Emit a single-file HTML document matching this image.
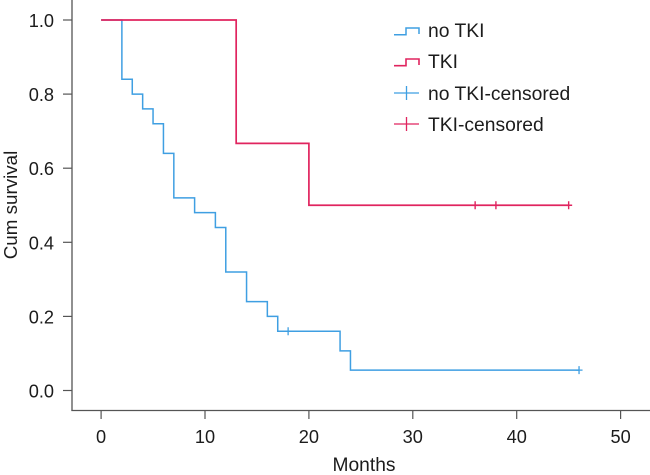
<!DOCTYPE html>
<html lang="en">
<head>
<meta charset="utf-8">
<title>Kaplan-Meier survival chart</title>
<style>
html,body{margin:0;padding:0;background:#fff;width:650px;height:475px;overflow:hidden}
svg{display:block}
text{font-family:"Liberation Sans",Arial,sans-serif;fill:#1c1c1c}
</style>
</head>
<body>
<svg id="chart" width="650" height="475" viewBox="0 0 650 475" xmlns="http://www.w3.org/2000/svg">
  <g id="axes"></g>
  <g id="marks" fill="none"></g>
  <text x="0" y="0" transform="translate(17,205) rotate(-90)" text-anchor="middle" font-size="18.8">Cum survival</text>
  <text x="364" y="471" text-anchor="middle" font-size="19.2">Months</text>
  <g fill="none">
    <path d="M394 34.7H406V28H419V34" stroke="#3f9fe2" stroke-width="1.5"/>
    <text x="428" y="37" font-size="19.3">no TKI</text>
    <path d="M394 65.7H406V59H419V65" stroke="#e0245f" stroke-width="1.6"/>
    <text x="428" y="68" font-size="19.3">TKI</text>
    <path d="M394 93H419M406.5 86V100" stroke="#3f9fe2" stroke-width="1.3"/>
    <text x="428" y="100" font-size="19.3">no TKI-censored</text>
    <path d="M394 124H419M406.5 117V131" stroke="#e0245f" stroke-width="1.3"/>
    <text x="428" y="131" font-size="19.3">TKI-censored</text>
  </g>
</svg>
<script>
const xTicks = [0, 10, 20, 30, 40, 50];
const yTicks = ["0.0", "0.2", "0.4", "0.6", "0.8", "1.0"];
const noTkiTimes = [0, 2, 3, 4, 5, 6, 7, 9, 11, 12, 14, 16, 17, 23, 24, 46];
const noTkiSurvival = [1, 0.84, 0.8, 0.76, 0.72, 0.64, 0.52, 0.48, 0.44, 0.32, 0.24, 0.2, 0.16, 0.107, 0.055, 0.055];
const tkiTimes = [0, 13, 20, 45];
const tkiSurvival = [1, 0.667, 0.5, 0.5];
const noTkiCensoredTimes = [18, 46];
const noTkiCensoredSurvival = [0.16, 0.055];
const tkiCensoredTimes = [36, 38, 45];
const tkiCensoredSurvival = [0.5, 0.5, 0.5];

const NS = 'http://www.w3.org/2000/svg';
const xScale = function (t) { return 101.1 + t * 10.39; };
const yScale = function (s) { return 390.5 - s * 370.5; };
const BLUE = '#3f9fe2';
const RED = '#e0245f';
const AXIS = '#555';

const axes = document.getElementById('axes');
const marks = document.getElementById('marks');

function make(tag, parent) {
  const el = document.createElementNS(NS, tag);
  parent.appendChild(el);
  return el;
}

const ySpine = make('path', axes);
ySpine.setAttribute('d', 'M72 0V411');
ySpine.setAttribute('stroke', AXIS);
ySpine.setAttribute('stroke-width', '1.3');



const xSpine = make('path', axes);
xSpine.setAttribute('d', 'M71.4 410.5H650');
xSpine.setAttribute('stroke', AXIS);
xSpine.setAttribute('stroke-width', '1.3');



xTicks.forEach(function (v) {
  const x = xScale(v);
  const tick = make('path', axes);
  tick.setAttribute('d', 'M' + x + ' 410.5V419');
  tick.setAttribute('stroke', AXIS);
  tick.setAttribute('stroke-width', '1.2');
  
  
  const label = make('text', axes);
  label.setAttribute('x', x);
  label.setAttribute('y', 443);
  label.setAttribute('text-anchor', 'middle');
  label.setAttribute('font-size', '18.2');
  
  
  label.textContent = v;
});

yTicks.forEach(function (v) {
  const y = yScale(parseFloat(v));
  const tick = make('path', axes);
  tick.setAttribute('d', 'M63 ' + y + 'H72');
  tick.setAttribute('stroke', AXIS);
  tick.setAttribute('stroke-width', '1.2');
  
  
  const label = make('text', axes);
  label.setAttribute('x', 54);
  label.setAttribute('y', y + 7);
  label.setAttribute('text-anchor', 'end');
  label.setAttribute('font-size', '18.2');
  
  
  label.textContent = v;
});

function stepPath(times, values) {
  let d = 'M' + xScale(times[0]) + ' ' + yScale(values[0]);
  for (let i = 1; i < times.length; i++) {
    d += 'H' + xScale(times[i]) + 'V' + yScale(values[i]);
  }
  return d;
}

const noTkiLine = make('path', marks);
noTkiLine.setAttribute('d', stepPath(noTkiTimes, noTkiSurvival));
noTkiLine.setAttribute('stroke', BLUE);
noTkiLine.setAttribute('stroke-width', '1.5');



const tkiLine = make('path', marks);
tkiLine.setAttribute('d', stepPath(tkiTimes, tkiSurvival));
tkiLine.setAttribute('stroke', RED);
tkiLine.setAttribute('stroke-width', '1.7');



noTkiCensoredTimes.forEach(function (t, i) {
  const x = xScale(t);
  const y = yScale(noTkiCensoredSurvival[i]);
  const m = make('path', marks);
  m.setAttribute('d', 'M' + (x - 3.5) + ' ' + y + 'H' + (x + 3.5) + 'M' + x + ' ' + (y - 4) + 'V' + (y + 4));
  m.setAttribute('stroke', BLUE);
  m.setAttribute('stroke-width', '1.3');
  
  
});

tkiCensoredTimes.forEach(function (t, i) {
  const x = xScale(t);
  const y = yScale(tkiCensoredSurvival[i]);
  const m = make('path', marks);
  m.setAttribute('d', 'M' + (x - 3.5) + ' ' + y + 'H' + (x + 3.5) + 'M' + x + ' ' + (y - 4) + 'V' + (y + 4));
  m.setAttribute('stroke', RED);
  m.setAttribute('stroke-width', '1.4');
  
  
});
</script>
</body>
</html>
